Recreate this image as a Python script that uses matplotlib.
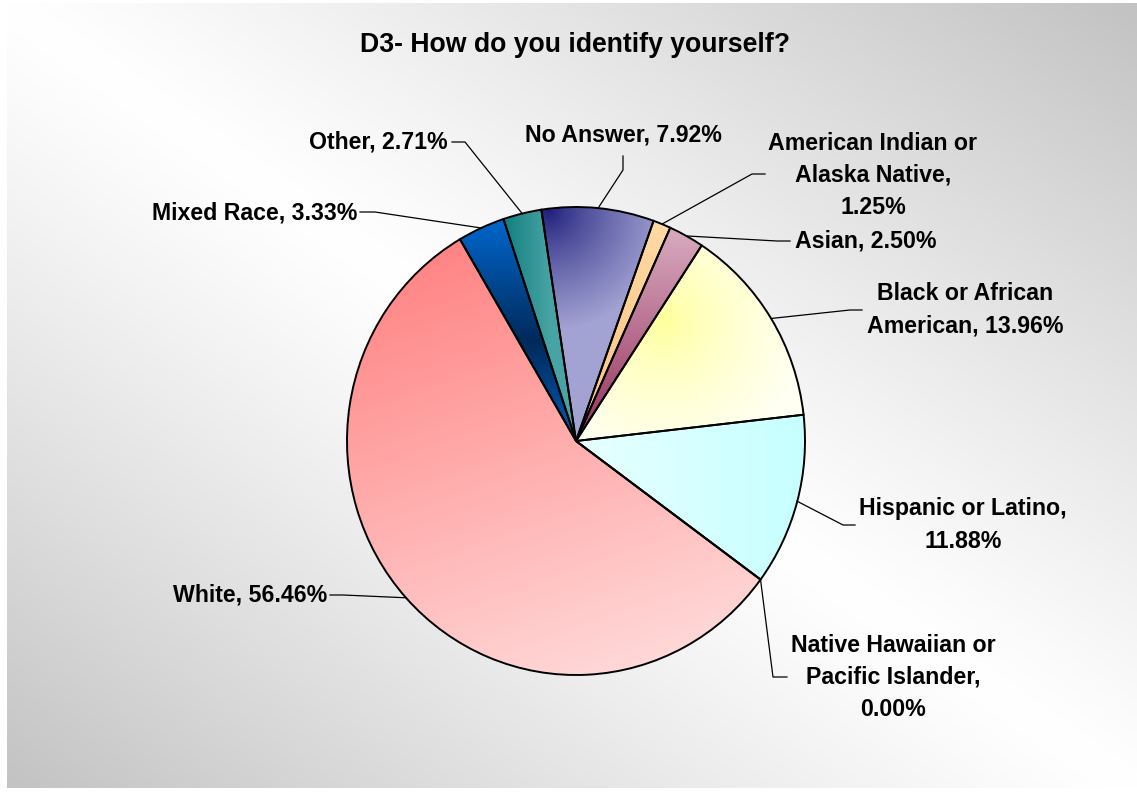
import numpy as np
import matplotlib
matplotlib.use("Agg")
import matplotlib.pyplot as plt
from matplotlib.colors import to_rgb
from matplotlib.transforms import Affine2D

categories = ["American Indian or Alaska Native", "Asian", "Black or African American",
              "Hispanic or Latino", "Native Hawaiian or Pacific Islander", "White",
              "Mixed Race", "Other", "No Answer"]
values = [1.25, 2.50, 13.96, 11.88, 0.00, 56.46, 3.33, 2.71, 7.92]

# how Excel wrapped each data label
label_fmt = {
    "American Indian or Alaska Native": "American Indian or\nAlaska Native,\n{:.2f}%",
    "Black or African American": "Black or African\nAmerican, {:.2f}%",
    "Hispanic or Latino": "Hispanic or Latino,\n{:.2f}%",
    "Native Hawaiian or Pacific Islander": "Native Hawaiian or\nPacific Islander,\n{:.2f}%",
}

W, H = 1137, 792
cx, cy = 576, 441          # pie centre in pixels (y down)
rx, ry = 229, 234          # slightly squashed like the original

fig = plt.figure(figsize=(W / 100, H / 100), dpi=100)
ax = fig.add_axes([0, 0, 1, 1])
plt.rcParams['font.family'] = ['Liberation Sans', 'DejaVu Sans']


def P(x, y):
    return x, H - y


def lerp(c1, c2, t):
    c1 = np.array(to_rgb(c1))
    c2 = np.array(to_rgb(c2))
    return c1 + (c2 - c1) * np.clip(t, 0, 1)[..., None]


# background: diagonal grey-white-grey gradient inside a thin white border
bx0, bx1, by0, by1 = 7, W, 3, 788
X, Y = np.meshgrid(np.arange(bx0, bx1), np.arange(by0, by1))
t = X / W - Y / H
g = 1 - 0.24 * np.abs(t) ** 1.15
ax.imshow(np.dstack([g, g, g]), extent=(bx0, bx1, H - by1, H - by0),
          origin='upper', zorder=0)

wedges, _ = ax.pie(values, startangle=70.2, counterclock=False,
                   center=P(cx, cy), radius=rx,
                   wedgeprops=dict(edgecolor='black', linewidth=1.4))
squash = Affine2D().translate(-cx, -(H - cy)).scale(1, ry / rx).translate(cx, H - cy)
for w in wedges:
    w.set_transform(squash + ax.transData)

# per-slice gradient fills (pixel coords)
xs = np.arange(cx - rx, cx + rx)
ys = np.arange(cy - ry, cy + ry)
GX, GY = np.meshgrid(xs, ys)


def fill_ai(X, Y):
    return lerp('#FFDAA5', '#FFC27F', (Y - 215) / 220)


def fill_asian(X, Y):
    return lerp('#D6A8BC', '#96305E', (Y - 235) / 204)


def fill_black(X, Y):
    d = np.hypot(X - 663, Y - 320)
    return lerp('#FFFF98', '#FFFFF2', (d / 140) ** 0.7)


def fill_hisp(X, Y):
    return lerp('#E8FFFF', '#C6FFFF', (X - 576) / 230)


def fill_white(X, Y):
    t = ((Y - 260) * 0.85 + (X - 420) * 0.3) / 420
    return lerp('#FF8585', '#FFDADA', t)


def fill_mixed(X, Y):
    t = (Y - 220) / 220
    d = 1 - np.abs(t - 0.55) / 0.55
    return lerp('#0066CC', '#002A5A', d)


def fill_other(X, Y):
    return lerp('#158080', '#48A4A4', (X - 505) / 45)


def fill_na(X, Y):
    d = np.hypot(X - 548, Y - 210)
    return lerp('#1C1C7A', '#A2A2D3', (d / 120) ** 0.8)


fills = [fill_ai, fill_asian, fill_black, fill_hisp, fill_hisp,
         fill_white, fill_mixed, fill_other, fill_na]

for w, f in zip(wedges, fills):
    im = ax.imshow(f(GX, GY), extent=(cx - rx, cx + rx, H - (cy + ry), H - (cy - ry)),
                   origin='upper', zorder=2, interpolation='bilinear')
    im.set_clip_path(w)
    w.set_facecolor('none')
    w.set_zorder(3)

# label layout: (text x, text y, ha, elbow points) in pixels
layout = [
    (873, 175, 'center', [(765, 174), (752, 174)]),
    (795, 241, 'left', [(790, 241), (777, 241)]),
    (965, 310, 'center', [(862, 310), (850, 310)]),
    (963, 525, 'center', [(855, 525), (843, 525)]),
    (893, 677, 'center', [(787, 677), (773, 677)]),
    (327, 595, 'right', [(330, 595), (343, 595)]),
    (357, 213, 'right', [(360, 212), (375, 212)]),
    (448, 142, 'right', [(452, 142), (465, 142)]),
    (623, 135, 'center', [(623, 156), (623, 170)]),
]

for w, name, v, (tx, ty, ha, pts) in zip(wedges, categories, values, layout):
    txt = label_fmt.get(name, name + ", {:.2f}%").format(v)
    mid = np.deg2rad((w.theta1 + w.theta2) / 2)
    ax_x = cx + rx * np.cos(mid)
    ax_y = cy - ry * np.sin(mid)
    line = pts + [(ax_x, ax_y)]
    ax.plot([p[0] for p in line], [H - p[1] for p in line],
            color='black', lw=0.9, zorder=4)
    ax.text(*P(tx, ty), txt, ha=ha, va='center', fontsize=16.7, fontweight='bold',
            linespacing=1.5, multialignment='center', zorder=5)

ax.text(*P(575, 45), "D3- How do you identify yourself?", ha='center', va='center',
        fontsize=19.2, fontweight='bold')

ax.set_xlim(0, W)
ax.set_ylim(0, H)
ax.set_aspect('auto')
ax.axis('off')
fig.savefig("out.png", dpi=100)
